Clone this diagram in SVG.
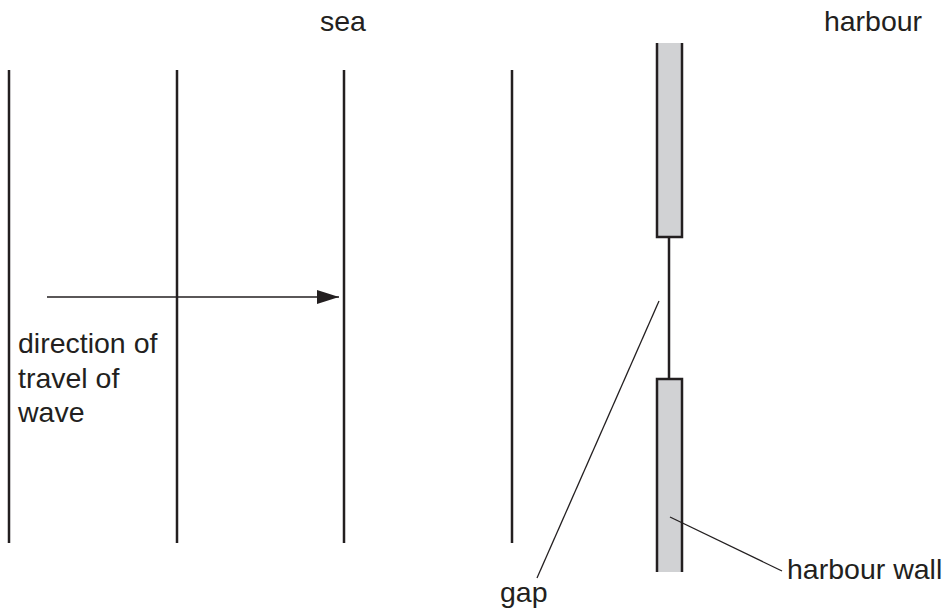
<svg xmlns="http://www.w3.org/2000/svg" width="951" height="616" viewBox="0 0 951 616">
<style>
text{font-family:"Liberation Sans",Arial,sans-serif;font-size:28.5px;fill:#231f20}
.wave{stroke:#231f20;stroke-width:2.5;fill:none}
.wall{fill:#d1d2d4;stroke:none}
.edge{stroke:#231f20;stroke-width:2.5;fill:none}
.lead{stroke:#231f20;stroke-width:1.3;fill:none}
</style>
<defs>
<marker id="ah" viewBox="0 0 22 14" refX="22" refY="7" markerWidth="22" markerHeight="14" markerUnits="userSpaceOnUse" orient="auto">
<path d="M0,0 L22,7 L0,14 z" fill="#231f20"/>
</marker>
</defs>
<rect width="951" height="616" fill="#fff"/>
<g id="waves">
<line class="wave" x1="9" y1="70" x2="9" y2="543"/>
<line class="wave" x1="177" y1="70" x2="177" y2="543"/>
<line class="wave" x1="344" y1="70" x2="344" y2="543"/>
<line class="wave" x1="512" y1="70" x2="512" y2="543"/>
</g>
<g id="wall-upper">
<rect class="wall" x="657" y="43" width="25" height="194"/>
<path class="edge" d="M657,43 V237 H682 V43"/>
</g>
<g id="wall-lower">
<rect class="wall" x="657" y="379" width="25" height="193"/>
<path class="edge" d="M657,572 V379 H682 V572"/>
</g>
<g id="connectors">
<line class="edge" x1="669" y1="237" x2="669" y2="379"/>
<line class="lead" x1="47" y1="297" x2="339" y2="297" marker-end="url(#ah)" style="stroke-width:1.5"/>
<line class="lead" x1="659" y1="301" x2="537" y2="578"/>
<line class="lead" x1="670" y1="517" x2="782" y2="571"/>
</g>
<g id="labels">
<text x="343" y="31" text-anchor="middle">sea</text>
<text x="873" y="31" text-anchor="middle">harbour</text>
<text x="18" y="353">direction of</text>
<text x="18" y="388">travel of</text>
<text x="18" y="422">wave</text>
<text x="500" y="602">gap</text>
<text x="787" y="579">harbour wall</text>
</g>
</svg>
